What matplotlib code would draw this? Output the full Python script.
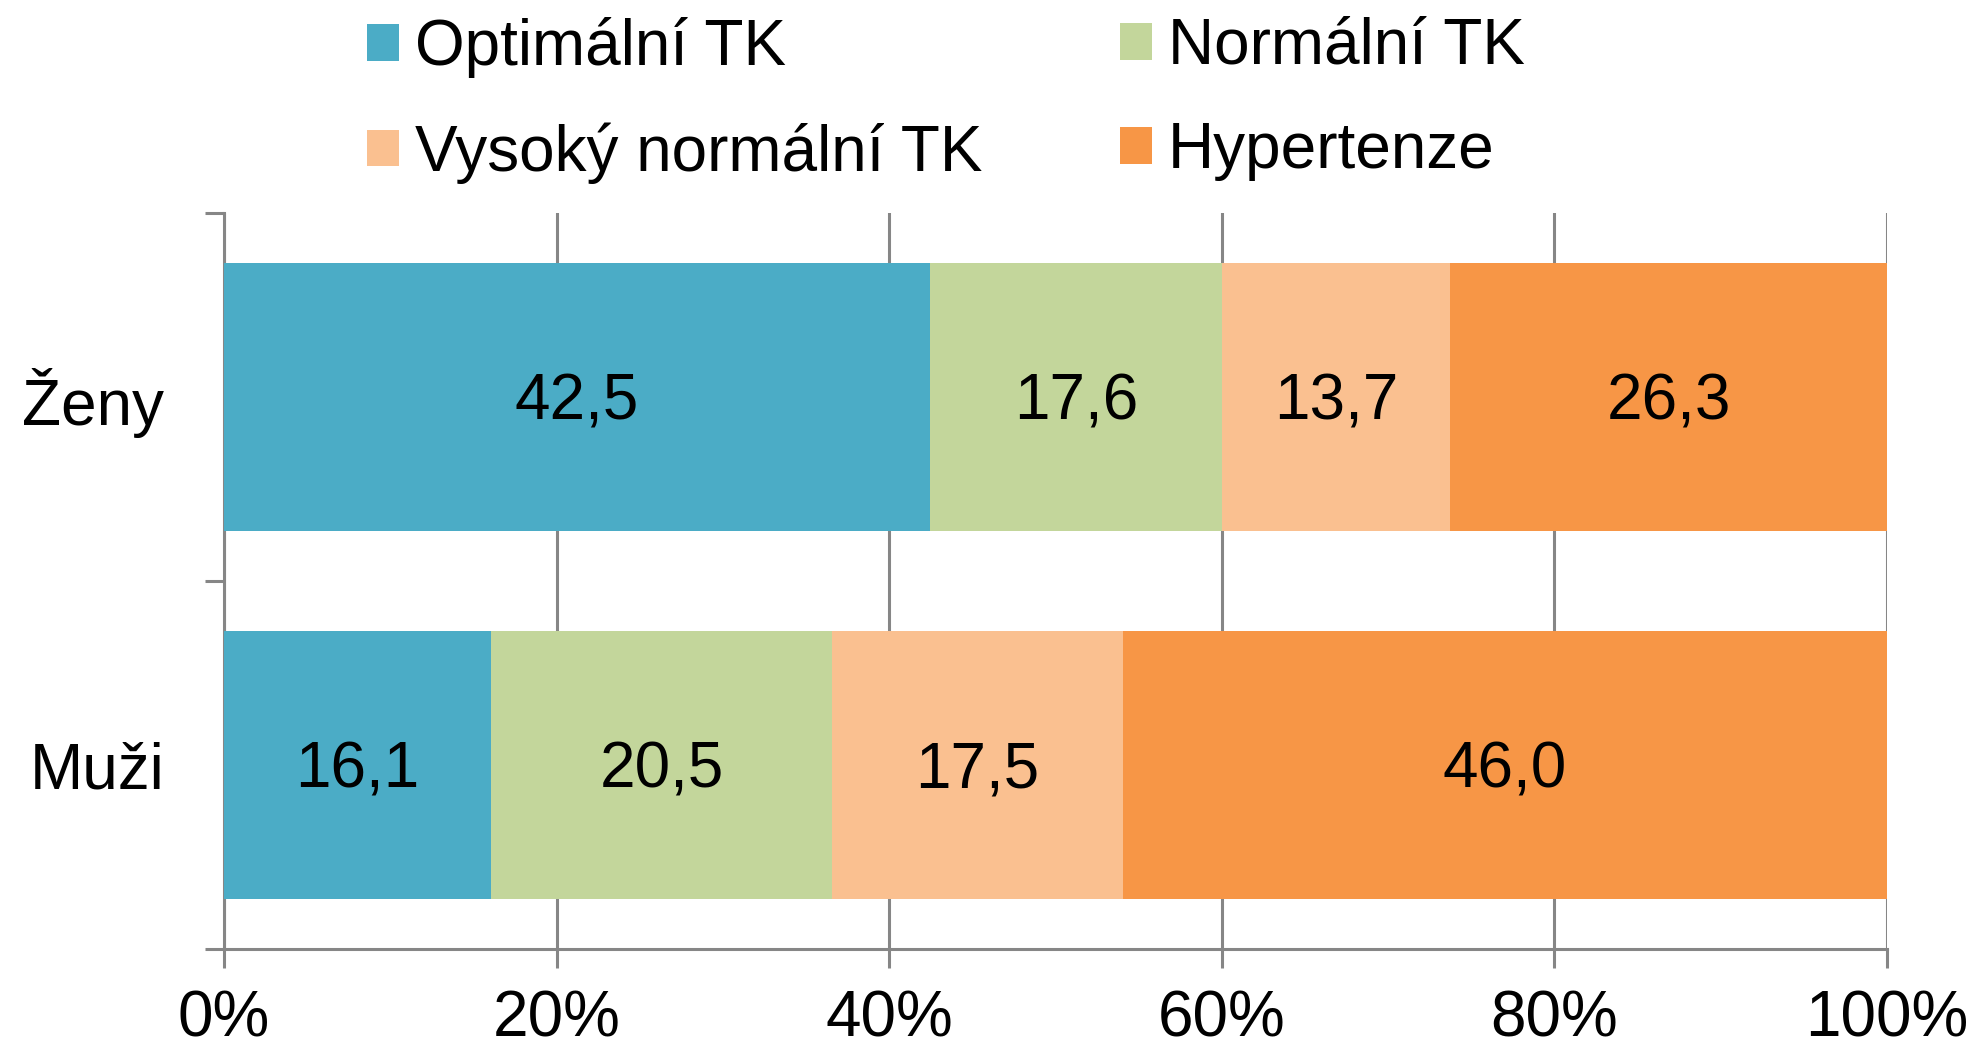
import matplotlib
matplotlib.use("Agg")
import matplotlib.pyplot as plt
from matplotlib.patches import Patch
from matplotlib.ticker import FixedLocator, PercentFormatter

plt.rcParams['font.family'] = ['Liberation Sans', 'DejaVu Sans']

categories = ["Muži", "Ženy"]
series_names = ["Optimální TK", "Normální TK", "Vysoký normální TK", "Hypertenze"]
optimalni = [16.1, 42.5]
normalni = [20.5, 17.6]
vysoky = [17.5, 13.7]
hypertenze = [46.0, 26.3]
colors = ["#4BACC6", "#C3D69B", "#FAC090", "#F79646"]
xticks = [0, 20, 40, 60, 80, 100]

series = [optimalni, normalni, vysoky, hypertenze]
totals = [sum(s[i] for s in series) for i in range(len(categories))]

W, H = 1978, 1051
fig = plt.figure(figsize=(W / 100, H / 100), dpi=100)
ax = fig.add_axes([224 / W, (H - 949) / H, (1887 - 224) / W, (949 - 213) / H])

FS = 46
GRAY = "#868686"
LW = 2.2

ypos = list(range(len(categories)))
left = [0.0] * len(categories)
for vals, name, col in zip(series, series_names, colors):
    widths = [v / t * 100 for v, t in zip(vals, totals)]
    bars = ax.barh(ypos, widths, left=left, height=0.73, color=col, label=name, zorder=3)
    for bar, v in zip(bars, vals):
        ax.annotate(f"{v:.1f}".replace(".", ","),
                    xy=(bar.get_x() + bar.get_width() / 2, bar.get_y() + bar.get_height() / 2),
                    xytext=(0, -4), textcoords="offset points",
                    ha="center", va="center", fontsize=FS, color="black", zorder=4)
    left = [l + w for l, w in zip(left, widths)]

ax.set_xlim(0, 100)
ax.set_ylim(-0.5, 1.5)
ax.set_xticks(xticks)
ax.xaxis.set_major_formatter(PercentFormatter(decimals=0))
ax.set_yticks(ypos)
ax.set_yticklabels(categories)
ax.yaxis.set_minor_locator(FixedLocator([-0.5, 0.5, 1.5]))
ax.tick_params(axis="y", which="major", length=0, pad=43, labelsize=FS)
ax.tick_params(axis="y", which="minor", length=14, width=LW, color=GRAY, direction="out")
ax.tick_params(axis="x", which="major", length=14, width=LW, color=GRAY, direction="out",
               pad=15, labelsize=FS)
ax.xaxis.grid(True, color=GRAY, linewidth=LW, zorder=0)
ax.set_axisbelow(True)
for s in ["top", "right"]:
    ax.spines[s].set_visible(False)
for s in ["left", "bottom"]:
    ax.spines[s].set_color(GRAY)
    ax.spines[s].set_linewidth(LW)

handles = [Patch(facecolor=c, edgecolor="none") for c in colors]
common = dict(frameon=False, fontsize=FS, handlelength=0.5, handleheight=0.5,
              handletextpad=0.25, labelspacing=0.69, borderpad=0, borderaxespad=0, ncol=1)
leg1 = fig.legend([handles[0], handles[2]], [series_names[0], series_names[2]],
                  loc="upper left", bbox_to_anchor=(367 / W, 1 - 17 / H), **common)
leg2 = fig.legend([handles[1], handles[3]], [series_names[1], series_names[3]],
                  loc="upper left", bbox_to_anchor=(1120 / W, 1 - 17 / H), **common)

fig.savefig("out.png", dpi=100)
